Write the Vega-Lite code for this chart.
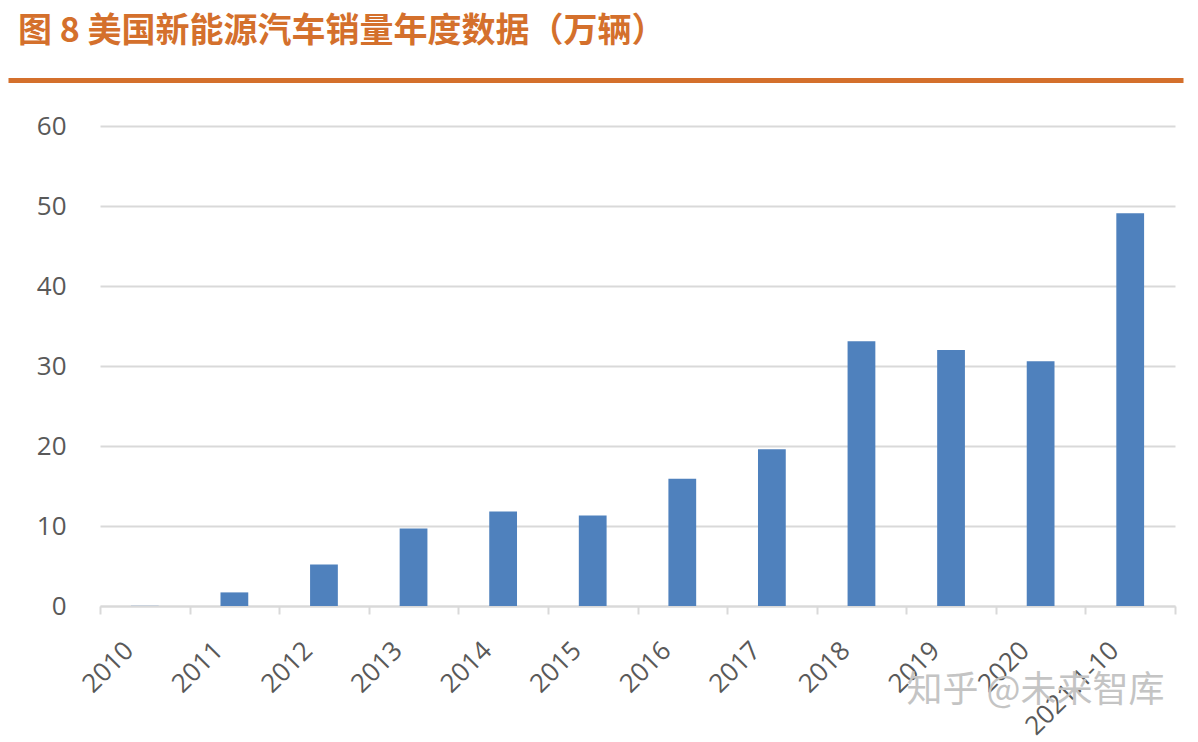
{
  "$schema": "https://vega.github.io/schema/vega-lite/v6.json",
  "width": 1075,
  "height": 480,
  "autosize": "none",
  "padding": {"left": 100, "top": 126, "right": 23, "bottom": 136},
  "background": "white",
  "title": {
    "text": "图 8 美国新能源汽车销量年度数据（万辆）",
    "anchor": "start",
    "frame": "group",
    "dx": -82,
    "dy": 26,
    "offset": 30,
    "font": "Noto Sans CJK SC",
    "fontSize": 34,
    "fontWeight": "bold",
    "color": "#D4702C",
    "baseline": "alphabetic"
  },
  "config": {"view": {"stroke": null}},
  "data": {
    "values": [
      {"year": "2010", "sales": 0.02},
      {"year": "2011", "sales": 1.7},
      {"year": "2012", "sales": 5.2},
      {"year": "2013", "sales": 9.7},
      {"year": "2014", "sales": 11.8},
      {"year": "2015", "sales": 11.3},
      {"year": "2016", "sales": 15.9},
      {"year": "2017", "sales": 19.6},
      {"year": "2018", "sales": 33.1},
      {"year": "2019", "sales": 32.0},
      {"year": "2020", "sales": 30.6},
      {"year": "2021.1-10", "sales": 49.1}
    ]
  },
  "layer": [
    {
      "mark": {"type": "bar", "color": "#4F81BD", "width": {"band": 0.31}},
      "encoding": {
        "x": {
          "field": "year",
          "type": "nominal",
          "sort": null,
          "scale": {"paddingInner": 0, "paddingOuter": 0},
          "axis": {
            "title": "知乎 @未来智库",
            "titleFont": "Noto Sans CJK SC",
            "titleFontSize": 36,
            "titleFontWeight": "normal",
            "titleColor": "#C4C4C4",
            "titleX": 935,
            "titleY": 84,
            "titleAlign": "center",
            "titleBaseline": "middle",
            "labelAngle": -45,
            "labelAlign": "right",
            "labelBaseline": "middle",
            "labelFont": "Open Sans",
            "labelFontSize": 26,
            "labelColor": "#595959",
            "labelOffset": -16,
            "labelPadding": 32,
            "labelOverlap": false,
            "labelBound": false,
            "labelFlush": false,
            "tickBand": "extent",
            "tickSize": 8,
            "tickColor": "#D9D9D9",
            "tickWidth": 2,
            "domainColor": "#D9D9D9",
            "domainWidth": 2
          }
        },
        "y": {
          "field": "sales",
          "type": "quantitative",
          "scale": {"domain": [0, 60]},
          "axis": {
            "values": [0, 10, 20, 30, 40, 50, 60],
            "title": null,
            "domain": false,
            "ticks": false,
            "grid": true,
            "gridColor": "#D9D9D9",
            "gridWidth": 2,
            "labelFont": "Open Sans",
            "labelFontSize": 26,
            "labelColor": "#595959",
            "labelPadding": 34
          }
        }
      }
    },
    {
      "mark": {"type": "point", "opacity": 0},
      "encoding": {
        "x": {
          "field": "year",
          "type": "nominal",
          "sort": null,
          "scale": {"range": [-92, 1083], "paddingInner": 0, "paddingOuter": 0},
          "axis": {
            "orient": "top",
            "offset": 46,
            "domainColor": "#D4702C",
            "domainWidth": 5,
            "domainCap": "butt",
            "ticks": false,
            "labels": false,
            "title": null,
            "grid": false
          }
        }
      }
    }
  ],
  "resolve": {"scale": {"x": "independent"}, "axis": {"x": "independent"}}
}
